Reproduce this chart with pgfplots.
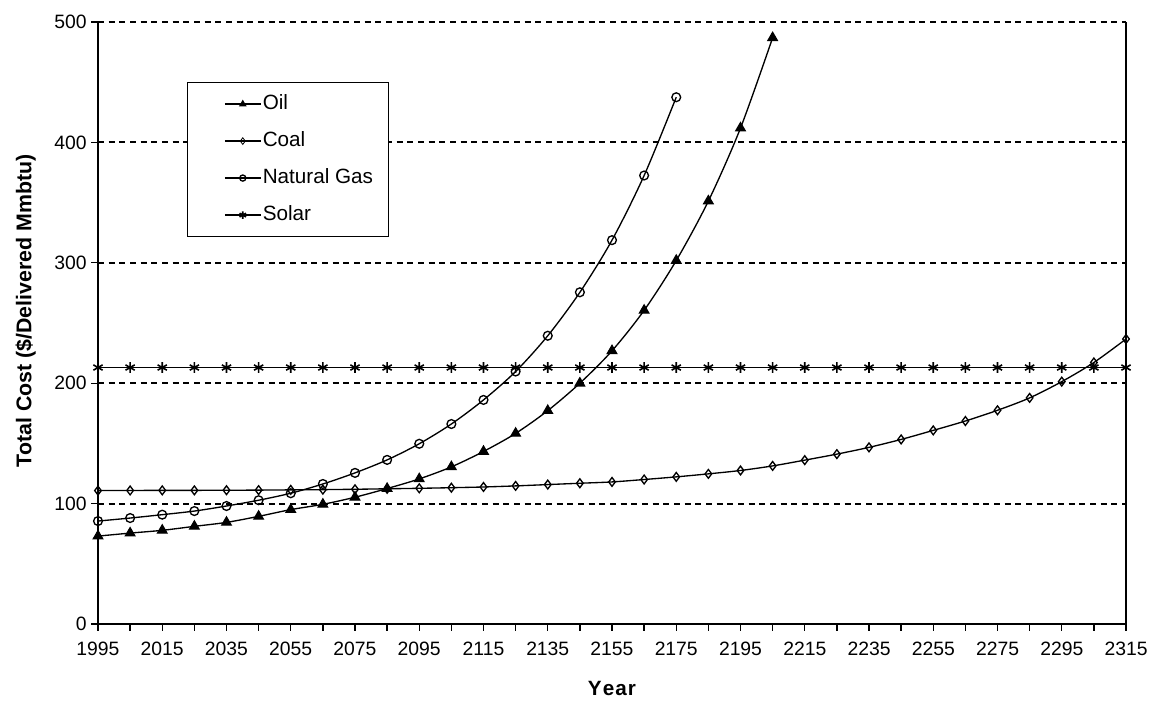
\documentclass[border=0pt]{standalone}
\usepackage{pgfplots}
\pgfplotsset{compat=1.18}
\usepackage{fontspec}
\setmainfont{Liberation Sans}
\begin{document}
\begin{tikzpicture}
\begin{axis}[
  name=ax,
  scale only axis,
  width=771pt, height=451.5pt,
  xmin=1995, xmax=2315, ymin=0, ymax=500,
  clip=false,
  axis x line*=bottom, axis y line*=left,
  axis line style={line width=1.5pt, -},
  xtick={1995,2015,...,2315},
  minor xtick={2005,2025,...,2305},
  ytick={0,100,...,500},
  tick align=outside,
  major tick length=5pt, minor tick length=5pt,
  tick style={black, line width=1pt},
  xticklabel style={/pgf/number format/1000 sep={}, yshift=-5pt},
  /pgf/number format/assume math mode=true,
  ticklabel style={font=\fontsize{14.5}{16}\selectfont},
  ymajorgrids,
  major grid style={black, line width=1.5pt, dash pattern=on 4.5pt off 3.5pt},
  xlabel={\textbf{Y\kern0.8pt e\kern0.8pt a\kern0.8pt r}},
  ylabel={\textbf{Total Cost (\$/Delivered Mmbtu)}},
  xlabel style={font=\fontsize{15.5}{17}\selectfont, yshift=-12pt},
  ylabel style={font=\fontsize{16}{18}\selectfont, at={(ticklabel cs:0.52)}, yshift=7pt},
  legend cell align=left,
  legend style={at={(0.0865,0.9)}, anchor=north west, draw=black, line width=0.8pt, fill=white,
    font=\fontsize{15.5}{17}\selectfont, inner xsep=10.5pt, inner ysep=8pt, row sep=11.75pt,
    nodes={inner sep=1pt, text height=11pt, text depth=3pt}},
  legend image code/.code={\path (0pt,0pt); \draw[mark repeat=2,mark phase=2] plot coordinates {(17pt,0pt)(30.5pt,0pt)(44pt,0pt)};},
  every axis plot/.append style={black, line width=1pt, smooth, tension=0.5,
     mark options={solid, line width=0.8pt}},
]
\addplot[mark=triangle*, mark size=4.2pt, legend image post style={mark size=2.5pt}] coordinates {
(1995,73.0)(2005,75.5)(2015,77.8)(2025,81.1)(2035,84.4)(2045,89.4)(2055,95.0)(2065,99.4)
(2075,105.3)(2085,112.5)(2095,120.5)(2105,130.5)(2115,143.3)(2125,158.3)(2135,177.2)
(2145,200.0)(2155,226.9)(2165,260.5)(2175,301.9)(2185,351.3)(2195,411.9)(2205,486.9)};
\addlegendentry{Oil}
\addplot[mark=diamond, mark size=3.3pt, mark options={fill=white}, legend image post style={mark size=2.5pt, mark options={fill=white, line width=0.6pt}}] coordinates {
(1995,110.8)(2005,110.9)(2015,111.0)(2025,111.0)(2035,111.1)(2045,111.2)(2055,111.4)(2065,111.6)
(2075,111.9)(2085,112.3)(2095,112.7)(2105,113.2)(2115,113.8)(2125,114.7)(2135,115.8)(2145,116.9)
(2155,118.0)(2165,120.0)(2175,122.2)(2185,124.7)(2195,127.5)(2205,131.3)(2215,136.1)(2225,141.1)
(2235,146.7)(2245,153.3)(2255,160.8)(2265,168.6)(2275,177.5)(2285,187.8)(2295,201.3)(2305,217.2)
(2315,236.7)};
\addlegendentry{Coal}
\addplot[mark=o, mark size=3.3pt, mark options={fill=white}, legend image post style={mark size=2.3pt}] coordinates {
(1995,85.5)(2005,88.0)(2015,90.8)(2025,93.8)(2035,98.0)(2045,102.8)(2055,108.6)(2065,116.3)
(2075,125.5)(2085,136.3)(2095,149.7)(2105,166.1)(2115,186.1)(2125,209.7)(2135,239.4)(2145,275.5)
(2155,318.8)(2165,372.5)(2175,437.5)};
\addlegendentry{Natural Gas}
\addplot[mark=asterisk, mark size=4pt, mark options={line width=1.2pt}, legend image post style={mark size=2.8pt}] coordinates {
(1995,213)(2005,213)(2015,213)(2025,213)(2035,213)(2045,213)(2055,213)(2065,213)(2075,213)
(2085,213)(2095,213)(2105,213)(2115,213)(2125,213)(2135,213)(2145,213)(2155,213)(2165,213)
(2175,213)(2185,213)(2195,213)(2205,213)(2215,213)(2225,213)(2235,213)(2245,213)(2255,213)
(2265,213)(2275,213)(2285,213)(2295,213)(2305,213)(2315,213)};
\addlegendentry{Solar}
\draw[line width=1.5pt] (rel axis cs:1,0) -- (rel axis cs:1,1);
\end{axis}
\path[use as bounding box] ([xshift=-73.5pt,yshift=-63.75pt]ax.south west) rectangle ([xshift=19.5pt,yshift=16.5pt]ax.north east);
\end{tikzpicture}
\end{document}
